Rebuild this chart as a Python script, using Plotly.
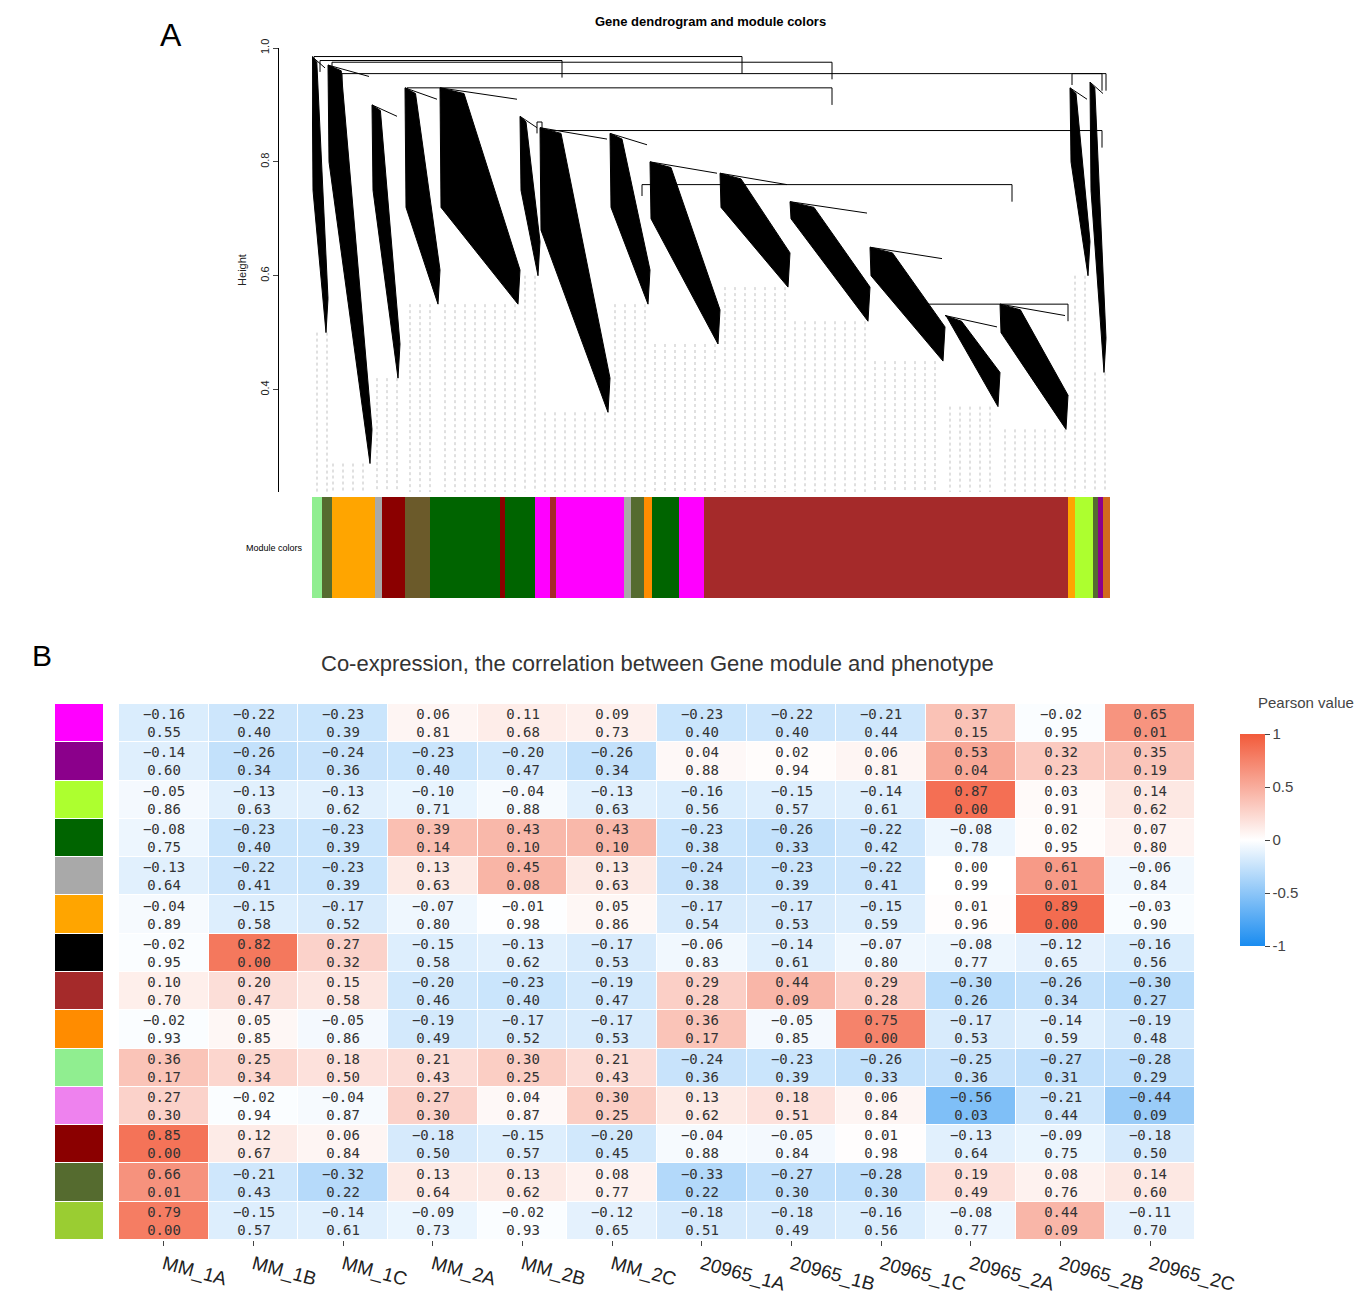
import plotly.graph_objects as go
import numpy as np

# ---------------- Panel B data ----------------
samples = ["MM_1A","MM_1B","MM_1C","MM_2A","MM_2B","MM_2C",
           "20965_1A","20965_1B","20965_1C","20965_2A","20965_2B","20965_2C"]
modules = ["magenta","purple","greenyellow","darkgreen","darkgrey","orange","black",
           "brown","darkorange","lightgreen","violet","darkred","darkolivegreen","yellowgreen"]
module_hex = ["#ff00ff","#8b008b","#adff2f","#006400","#a9a9a9","#ffa500","#000000",
              "#a52a2a","#ff8c00","#90ee90","#ee82ee","#8b0000","#556b2f","#9acd32"]
corr = [
 [-0.16,-0.22,-0.23,0.06,0.11,0.09,-0.23,-0.22,-0.21,0.37,-0.02,0.65],
 [-0.14,-0.26,-0.24,-0.23,-0.20,-0.26,0.04,0.02,0.06,0.53,0.32,0.35],
 [-0.05,-0.13,-0.13,-0.10,-0.04,-0.13,-0.16,-0.15,-0.14,0.87,0.03,0.14],
 [-0.08,-0.23,-0.23,0.39,0.43,0.43,-0.23,-0.26,-0.22,-0.08,0.02,0.07],
 [-0.13,-0.22,-0.23,0.13,0.45,0.13,-0.24,-0.23,-0.22,0.00,0.61,-0.06],
 [-0.04,-0.15,-0.17,-0.07,-0.01,0.05,-0.17,-0.17,-0.15,0.01,0.89,-0.03],
 [-0.02,0.82,0.27,-0.15,-0.13,-0.17,-0.06,-0.14,-0.07,-0.08,-0.12,-0.16],
 [0.10,0.20,0.15,-0.20,-0.23,-0.19,0.29,0.44,0.29,-0.30,-0.26,-0.30],
 [-0.02,0.05,-0.05,-0.19,-0.17,-0.17,0.36,-0.05,0.75,-0.17,-0.14,-0.19],
 [0.36,0.25,0.18,0.21,0.30,0.21,-0.24,-0.23,-0.26,-0.25,-0.27,-0.28],
 [0.27,-0.02,-0.04,0.27,0.04,0.30,0.13,0.18,0.06,-0.56,-0.21,-0.44],
 [0.85,0.12,0.06,-0.18,-0.15,-0.20,-0.04,-0.05,0.01,-0.13,-0.09,-0.18],
 [0.66,-0.21,-0.32,0.13,0.13,0.08,-0.33,-0.27,-0.28,0.19,0.08,0.14],
 [0.79,-0.15,-0.14,-0.09,-0.02,-0.12,-0.18,-0.18,-0.16,-0.08,0.44,-0.11],
]
pval = [
 [0.55,0.40,0.39,0.81,0.68,0.73,0.40,0.40,0.44,0.15,0.95,0.01],
 [0.60,0.34,0.36,0.40,0.47,0.34,0.88,0.94,0.81,0.04,0.23,0.19],
 [0.86,0.63,0.62,0.71,0.88,0.63,0.56,0.57,0.61,0.00,0.91,0.62],
 [0.75,0.40,0.39,0.14,0.10,0.10,0.38,0.33,0.42,0.78,0.95,0.80],
 [0.64,0.41,0.39,0.63,0.08,0.63,0.38,0.39,0.41,0.99,0.01,0.84],
 [0.89,0.58,0.52,0.80,0.98,0.86,0.54,0.53,0.59,0.96,0.00,0.90],
 [0.95,0.00,0.32,0.58,0.62,0.53,0.83,0.61,0.80,0.77,0.65,0.56],
 [0.70,0.47,0.58,0.46,0.40,0.47,0.28,0.09,0.28,0.26,0.34,0.27],
 [0.93,0.85,0.86,0.49,0.52,0.53,0.17,0.85,0.00,0.53,0.59,0.48],
 [0.17,0.34,0.50,0.43,0.25,0.43,0.36,0.39,0.33,0.36,0.31,0.29],
 [0.30,0.94,0.87,0.30,0.87,0.25,0.62,0.51,0.84,0.03,0.44,0.09],
 [0.00,0.67,0.84,0.50,0.57,0.45,0.88,0.84,0.98,0.64,0.75,0.50],
 [0.01,0.43,0.22,0.64,0.62,0.77,0.22,0.30,0.30,0.49,0.76,0.60],
 [0.00,0.57,0.61,0.73,0.93,0.65,0.51,0.49,0.56,0.77,0.09,0.70],
]

# ---------------- Panel A data (approximate dendrogram) ----------------
clu_x0 = [0, 16, 60, 93, 128, 208, 228, 298, 338, 408, 478, 558, 633, 688, 758, 778]
clu_x1 = [16, 60, 88, 128, 208, 228, 298, 338, 408, 478, 558, 633, 688, 756, 778, 794]
clu_top = [0.985, 0.97, 0.90, 0.93, 0.93, 0.88, 0.86, 0.85, 0.80, 0.78, 0.73, 0.65, 0.53, 0.55, 0.93, 0.94]
clu_lowl = [0.75, 0.80, 0.75, 0.72, 0.72, 0.75, 0.68, 0.72, 0.70, 0.72, 0.70, 0.60, 0.53, 0.50, 0.80, 0.75]
clu_lowr = [0.50, 0.27, 0.42, 0.55, 0.55, 0.60, 0.36, 0.55, 0.48, 0.58, 0.52, 0.45, 0.37, 0.33, 0.60, 0.43]
mrg_x0 = [2, 8, 20, 30, 95, 225, 230, 330, 600, 760]
mrg_x1 = [430, 250, 520, 790, 520, 230, 790, 700, 756, 794]
mrg_h = [0.985, 0.978, 0.975, 0.955, 0.93, 0.87, 0.855, 0.76, 0.55, 0.955]
seg_colors = ["#90ee90","#556b2f","#ffa500","#a9a9a9","#8b0000","#6b5a2a","#006400","#8b0000",
              "#006400","#ff00ff","#a52a2a","#ff00ff","#a9a9a9","#556b2f","#ff8c00","#006400",
              "#ff00ff","#a52a2a","#ffa500","#adff2f","#556b2f","#8b008b","#d2691e"]
seg_widths = [10, 10, 43, 7, 23, 25, 70, 5, 30, 15, 6, 68, 7, 13, 8, 27, 25, 364, 7, 18, 5, 5, 7]

W, H = 1370, 1306
OFF = 8  # page body margin
fx = lambda p: (p - OFF) / W
fy = lambda p: 1 - (p - OFF) / H

fig = go.Figure()

for x0, x1, t, ll, lr in zip(clu_x0, clu_x1, clu_top, clu_lowl, clu_lowr):
    tip = x0 + max(3, (x1 - x0) * 0.3)
    fig.add_trace(go.Scatter(x=[x0, tip, x1, x1 - 2, x0 + 1, x0], y=[t, t - 0.01, lr + 0.06, lr, ll, t],
                             fill="toself", fillcolor="black", line=dict(color="black", width=1),
                             mode="lines", xaxis="x", yaxis="y", showlegend=False, hoverinfo="skip"))
    fig.add_trace(go.Scatter(x=[x0, x1 - 3], y=[t, t - 0.02], mode="lines",
                             line=dict(color="black", width=1), xaxis="x", yaxis="y",
                             showlegend=False, hoverinfo="skip"))
for x0, x1, h in zip(mrg_x0, mrg_x1, mrg_h):
    fig.add_trace(go.Scatter(x=[x0, x0, x1, x1], y=[h - 0.02, h, h, h - 0.03], mode="lines",
                             line=dict(color="black", width=1), xaxis="x", yaxis="y",
                             showlegend=False, hoverinfo="skip"))
for x0, x1, lr in zip(clu_x0, clu_x1, clu_lowr):
    for xx in np.arange(x0 + 5, x1, 10):
        fig.add_trace(go.Scatter(x=[xx, xx], y=[lr, 0.22], mode="lines",
                                 line=dict(color="#999", width=0.6, dash="dot"),
                                 xaxis="x", yaxis="y", showlegend=False, hoverinfo="skip"))

base = np.concatenate([[0], np.cumsum(seg_widths)[:-1]])
fig.add_trace(go.Bar(x=seg_widths, base=base, y=[0]*len(seg_widths), orientation="h",
                     marker=dict(color=seg_colors, line=dict(width=0)), width=1,
                     xaxis="x2", yaxis="y2", showlegend=False, hoverinfo="skip"))

text = [[f"{c:.2f}".replace("-", "\u2212") + "<br>" + f"{p:.2f}" for c, p in zip(rc, rp)]
        for rc, rp in zip(corr, pval)]
fig.add_trace(go.Heatmap(z=corr, x=samples, y=modules, text=text, texttemplate="%{text}",
                         textfont=dict(family="DejaVu Sans Mono", size=14, color="#333"),
                         zmin=-1, zmax=1, xgap=1, ygap=1,
                         colorscale=[[0, "#1a8cf0"], [0.5, "#ffffff"], [1, "#f25a3a"]],
                         colorbar=dict(x=fx(1230), xanchor="left", y=fy(724), yanchor="top",
                                       len=0.178, thickness=25, tickvals=[-1, -0.5, 0, 0.5, 1],
                                       ticktext=["-1", "-0.5", "0", "0.5", "1"],
                                       ticks="outside", ticklen=5, outlinewidth=0,
                                       tickfont=dict(size=15, color="#444")),
                         xaxis="x3", yaxis="y3", hoverinfo="skip"))
fig.add_trace(go.Heatmap(z=[[i] for i in range(len(modules))], y=modules, x=[0],
                         colorscale=[[i/(len(module_hex)-1), c] for i, c in enumerate(module_hex)],
                         showscale=False, ygap=1, xaxis="x4", yaxis="y4", hoverinfo="skip"))

fig.update_layout(
    width=W, height=H, paper_bgcolor="white", plot_bgcolor="white",
    margin=dict(l=0, r=0, t=0, b=0, autoexpand=False), font=dict(family="Liberation Sans", color="black"),
    xaxis=dict(domain=[fx(312), fx(1110)], range=[0, 798], visible=False, anchor="y"),
    yaxis=dict(domain=[fy(492), fy(48)], range=[0.22, 1.0], tickvals=[0.4, 0.6, 0.8, 1.0],
               ticktext=["0.4", "0.6", "0.8", "1.0"], tickangle=-90, ticks="outside",
               showline=True, linecolor="black", showgrid=False, zeroline=False, automargin=False,
               anchor="free", position=fx(278), tickfont=dict(size=11, color="#222"),
               title=dict(text="Height", font=dict(size=11, color="#222"), standoff=8)),
    xaxis2=dict(domain=[fx(312), fx(1110)], range=[0, 798], visible=False, anchor="y2"),
    yaxis2=dict(domain=[fy(598), fy(497)], range=[-0.5, 0.5], visible=False, anchor="x2"),
    xaxis3=dict(domain=[fx(119), fx(1195)], tickangle=15, ticks="outside", ticklen=5, anchor="y3",
                automargin=False, tickfont=dict(size=19, color="#222"), showgrid=False),
    yaxis3=dict(domain=[fy(1240), fy(704)], autorange="reversed", visible=False, anchor="x3"),
    xaxis4=dict(domain=[fx(55), fx(103)], visible=False, anchor="y4"),
    yaxis4=dict(domain=[fy(1240), fy(704)], autorange="reversed", visible=False, anchor="x4"),
    bargap=0,
    annotations=[
        dict(text="A", x=fx(158), y=fy(15), xref="paper", yref="paper", showarrow=False, font=dict(size=32)),
        dict(text="B", x=fx(30), y=fy(655), xref="paper", yref="paper", showarrow=False, font=dict(size=30)),
        dict(text="<b>Gene dendrogram and module colors</b>", x=fx(710), y=fy(12), xref="paper",
             yref="paper", showarrow=False, font=dict(size=13)),
        dict(text="Module colors", x=fx(305), y=fy(548), xref="paper", yref="paper", xanchor="right",
             showarrow=False, font=dict(size=9)),
        dict(text="Co-expression, the correlation between Gene module and phenotype", x=fx(657),
             y=fy(664), xref="paper", yref="paper", showarrow=False, font=dict(size=22, color="#333")),
        dict(text="Pearson value", x=fx(1356), y=fy(702), xref="paper", yref="paper", xanchor="right",
             showarrow=False, font=dict(size=15, color="#444")),
    ],
)
fig.write_html("out.html")
